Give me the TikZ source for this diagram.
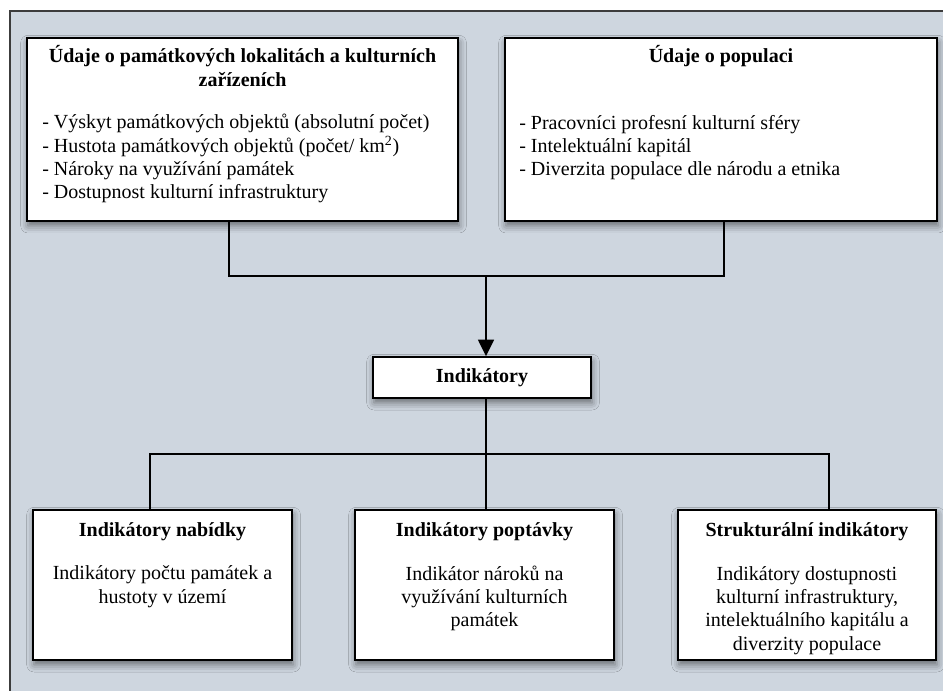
\documentclass[tikz,border=0pt]{standalone}
\usepackage{fontspec}
\setmainfont{Liberation Serif}
\usetikzlibrary{arrows.meta,shadows.blur}
\definecolor{bgc}{RGB}{206,214,223}
\definecolor{framec}{RGB}{60,60,60}
\begin{document}
\begin{tikzpicture}[x=0.75pt,y=0.75pt,
  box/.style={draw=black, line width=1.2pt, fill=white, rectangle, inner sep=0pt,
    blur shadow={shadow xshift=0.8pt, shadow yshift=-3.5pt, shadow blur radius=5.5pt, shadow opacity=50}},
  txt/.style={inner sep=0pt, font=\fontsize{15pt}{17.5pt}\selectfont},
  ttl/.style={inner sep=0pt, font=\fontsize{15pt}{18pt}\selectfont\bfseries},
  conn/.style={draw=black, line width=1.3pt},
  arr/.style={conn, -{Triangle[length=12.5pt,width=12pt]}}]
\useasboundingbox (0,0) rectangle (943,-691);
\fill[white] (0,0) rectangle (943,-691);
\draw[fill=bgc, draw=framec, line width=1.5pt] (10,-11) rectangle (960,-710);

% boxes
\node[box, minimum width=323.25pt, minimum height=137.25pt] (A) at (242.5,-129.5) {};
\node[box, minimum width=324pt, minimum height=137.25pt] (B) at (721,-129.5) {};
\node[box, minimum width=163.5pt, minimum height=30.75pt] (I) at (482,-377.5) {};
\node[box, minimum width=194.25pt, minimum height=112.5pt] (L) at (162.5,-585) {};
\node[box, minimum width=194.25pt, minimum height=112.5pt] (M) at (484.5,-585) {};
\node[box, minimum width=193.5pt, minimum height=112.5pt] (R) at (807,-585) {};

% texts (base anchor = baseline of the last line)
\node[ttl, align=center, anchor=base] (At) at (242.5,-87) {Údaje o památkových lokalitách a kulturních\\zařízeních};
\node[txt, align=left, anchor=base west] (Ab) at (42,-199) {- Výskyt památkových objektů (absolutní počet)\\- Hustota památkových objektů (počet/ km\textsuperscript{2})\\- Nároky na využívání památek\\- Dostupnost kulturní infrastruktury};
\node[ttl, anchor=base] (Bt) at (721,-63) {Údaje o populaci};
\node[txt, align=left, anchor=base west] (Bb) at (519,-176) {- Pracovníci profesní kulturní sféry\\- Intelektuální kapitál\\- Diverzita populace dle národu a etnika};
\node[ttl, anchor=base] (It) at (482,-383) {Indikátory};
\node[ttl, anchor=base] (Lt) at (162.5,-537) {Indikátory nabídky};
\node[txt, align=center, anchor=base] (Lb) at (162.5,-603.3) {Indikátory počtu památek a\\hustoty v území};
\node[ttl, anchor=base] (Mt) at (484.5,-537) {Indikátory poptávky};
\node[txt, align=center, anchor=base] (Mb) at (484.5,-626.7) {Indikátor nároků na\\využívání kulturních\\památek};
\node[ttl, anchor=base] (Rt) at (807,-537) {Strukturální indikátory};
\node[txt, align=center, anchor=base] (Rb) at (807,-650) {Indikátory dostupnosti\\kulturní infrastruktury,\\intelektuálního kapitálu a\\diverzity populace};

% connectors
\coordinate (jA) at (229,-276);
\coordinate (jB) at (724,-276);
\coordinate (jM) at (486,-276);
\coordinate (bL) at (150,-454);
\coordinate (bR) at (829,-454);
\coordinate (bM) at (486,-454);
\draw[conn] (A.south -| jA) -- (jA) -- (jB) -- (B.south -| jB);
\draw[arr] (jM) -- (I.north -| jM);
\draw[conn] (I.south -| bM) -- (M.north -| bM);
\draw[conn] (L.north -| bL) -- (bL) -- (bR) -- (R.north -| bR);
\end{tikzpicture}
\end{document}
